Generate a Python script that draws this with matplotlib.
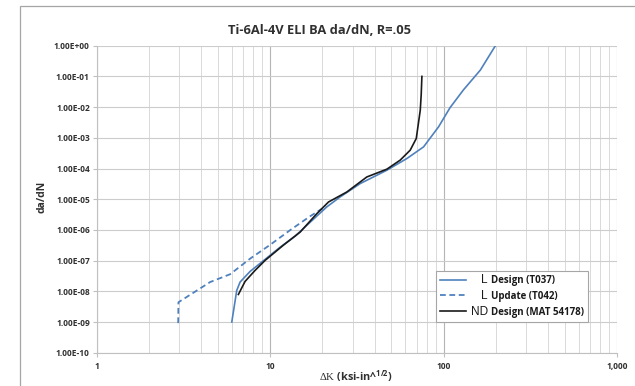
import numpy as np
import matplotlib
matplotlib.use("Agg")
import matplotlib.pyplot as plt
from matplotlib.patches import Rectangle

plt.rcParams["font.family"] = ["Open Sans", "DejaVu Sans"]
plt.rcParams["mathtext.fontset"] = "custom"
plt.rcParams["mathtext.rm"] = "Liberation Serif"
plt.rcParams["mathtext.bf"] = "Open Sans:bold"

# ── data ─────────────────────────────────────────────────────────────────────
l_design_dk = [6.01, 6.42, 6.71, 7.67, 9.36, 11.4, 13.9, 17.0, 21.2, 25.3,
               33.1, 47.1, 61.5, 76.7, 93.6, 109, 130, 163, 199]
l_design_dadn = [1.0e-9, 1.07e-8, 2.0e-8, 4.46e-8, 1.10e-7, 2.71e-7, 6.18e-7,
                 1.77e-6, 5.59e-6, 1.18e-5, 3.24e-5, 8.8e-5, 2.12e-4, 5.07e-4,
                 2.28e-3, 9.6e-3, 3.6e-2, 0.161, 1.0]

l_update_dk = [2.95, 2.96, 4.51, 5.88, 7.67, 10.0, 13.0, 17.0, 21.0]
l_update_dadn = [9.2e-10, 4.4e-9, 2.0e-8, 3.6e-8, 1.16e-7, 3.27e-7, 9.7e-7,
                 2.78e-6, 5.9e-6]

nd_design_dk = [6.56, 7.17, 8.19, 9.36, 11.9, 14.9, 18.6, 21.7, 27.7, 36.1,
                47.1, 56.2, 64.2, 69.6, 73.4, 74.3, 75.0]
nd_design_dadn = [7.9e-9, 2.1e-8, 4.8e-8, 1.02e-7, 3.15e-7, 8.5e-7, 3.4e-6,
                  8.1e-6, 1.72e-5, 5.3e-5, 9.5e-5, 1.87e-4, 3.95e-4, 9.5e-4,
                  8.0e-3, 2.5e-2, 0.1]

x_ticks = [1, 10, 100, 1000]
x_tick_labels = ["1", "10", "100", "1,000"]
y_ticks = [10.0 ** e for e in range(-10, 1)]
y_tick_labels = ["1.00E-10", "1.00E-09", "1.00E-08", "1.00E-07", "1.00E-06",
                 "1.00E-05", "1.00E-04", "1.00E-03", "1.00E-02", "1.00E-01",
                 "1.00E+00"]

legend_prefix = ["L", "L", "ND"]
legend_labels = ["Design (T037)", "Update (T042)", "Design (MAT 54178)"]

# ── figure ───────────────────────────────────────────────────────────────────
W, H = 635, 386
fig = plt.figure(figsize=(W / 100, H / 100), dpi=100, facecolor="white")

# outer chart-area frame (extends past the image right / bottom)
fig.patches.append(Rectangle((20 / W, -0.1), 1.2, 1 - 6 / H + 0.1,
                             transform=fig.transFigure, fill=False,
                             edgecolor="#a6a6a6", lw=0.9))

left, right = 96.7 / W, 617 / W
bottom, top = 1 - 352.7 / H, 1 - 45.7 / H
ax = fig.add_axes([left, bottom, right - left, top - bottom])

ax.set_xscale("log")
ax.set_yscale("log")
ax.set_xlim(1, 1000)
ax.set_ylim(1e-10, 1)

# grid
ax.grid(True, which="major", axis="x", color="#b5b5b5", lw=0.8)
ax.grid(True, which="minor", axis="x", color="#d9d9d9", lw=0.7)
ax.grid(True, which="major", axis="y", color="#cccccc", lw=0.8)
ax.grid(True, which="minor", axis="y", color="#e0e0e0", lw=0.6)
ax.set_axisbelow(True)

for s in ["top", "right"]:
    ax.spines[s].set_visible(False)
for s in ["left", "bottom"]:
    ax.spines[s].set_color("#c0c0c0")
    ax.spines[s].set_linewidth(0.8)

ax.set_xticks(x_ticks)
ax.set_xticklabels(x_tick_labels)
ax.set_yticks(y_ticks)
ax.set_yticklabels(y_tick_labels)
ax.tick_params(which="minor", length=0)
ax.tick_params(which="major", length=3, color="#c0c0c0", width=0.8)
ax.tick_params(axis="y", labelsize=6, pad=2, labelcolor="#303030")
ax.tick_params(axis="x", labelsize=6, pad=4, labelcolor="#303030")
for lbl in ax.get_xticklabels() + ax.get_yticklabels():
    lbl.set_fontweight("bold")

# series
blue = "#4f81bd"
h1, = ax.plot(l_design_dk, l_design_dadn, color=blue, lw=1.2)
h2, = ax.plot(l_update_dk, l_update_dadn, color=blue, lw=1.3,
              linestyle=(0, (3.2, 2.0)))
h3, = ax.plot(nd_design_dk, nd_design_dadn, color="#1a1a1a", lw=1.2)

# titles / labels
fig.text(320 / W, 1 - 30 / H, "Ti-6Al-4V ELI BA da/dN, R=.05",
         ha="center", va="center", fontsize=9.3, fontweight="bold",
         color="#303030")
fig.text(41.7 / W, 1 - 196.7 / H, "da/dN", rotation=90, ha="center",
         va="center", fontsize=7.5, fontweight="bold", color="#303030")
fig.text(356 / W, 1 - 376 / H,
         r"$\mathrm{\Delta K}$ (ksi-in^$^{\mathbf{1/2}}$)",
         ha="center", va="center", fontsize=7.8, fontweight="bold",
         color="#303030")

# legend
leg = ax.legend([h1, h2, h3], legend_labels, loc="lower left",
                bbox_to_anchor=(0.652, 0.100), borderaxespad=0,
                frameon=True, fancybox=False,
                edgecolor="#a6a6a6", framealpha=1, borderpad=0.45,
                handlelength=2.6, handletextpad=2.6, labelspacing=0.5,
                prop={"weight": "bold", "size": 7})
leg.get_frame().set_linewidth(0.8)
for t in leg.get_texts():
    t.set_color("#1a1a1a")

fig.canvas.draw()
inv = fig.transFigure.inverted()
for t, p in zip(leg.get_texts(), legend_prefix):
    bb = t.get_window_extent()
    fx, fy = inv.transform((bb.x0 - 3, (bb.y0 + bb.y1) / 2))
    fig.text(fx, fy, p, ha="right", va="center", fontsize=8.5,
             family="Liberation Sans", color="#1a1a1a")

fig.savefig("out.png", dpi=100, facecolor="white")
